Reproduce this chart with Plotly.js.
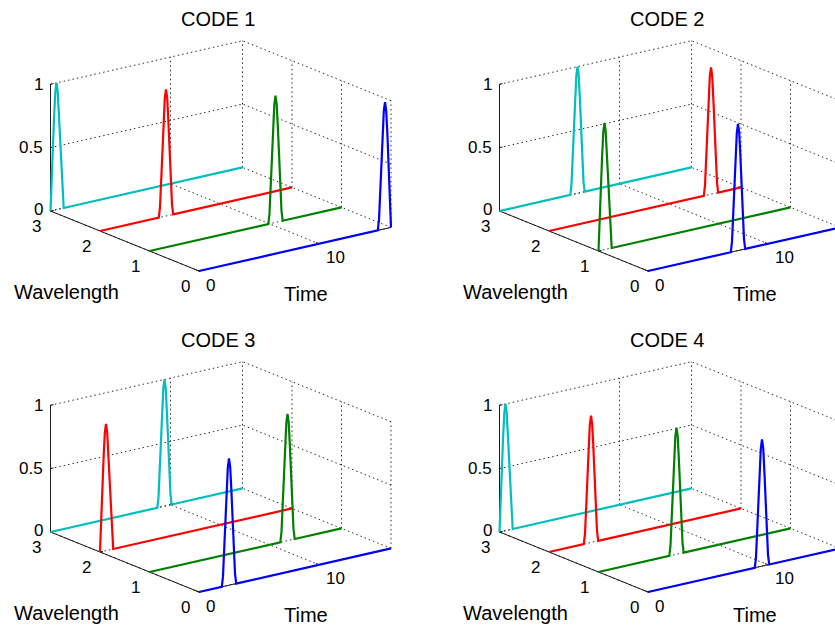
<!DOCTYPE html>
<html>
<head>
<meta charset="utf-8">
<script src="https://cdn.plot.ly/plotly-3.0.1.min.js"></script>
<style>
  html, body { margin: 0; padding: 0; background: #fff; }
  #chart { width: 835px; height: 627px; }
</style>
</head>
<body>
<div id="chart"></div>
<script>
// ---- data -------------------------------------------------------------
// Time axis span (16 chip slots) and the four wavelength channels
const timeRange = [0, 16];
const wavelengthRange = [0, 3];
const ampRange = [0, 1];
const wavelengths = [0, 1, 2, 3];
const lineColors = ['#0000FF', '#008000', '#FF0000', '#00BFBF'];

// Chip slot carrying the pulse on wavelength 0, 1, 2, 3 for each code
const code1Chips = [15, 10, 5, 0];
const code2Chips = [7, 0, 13, 6];
const code3Chips = [2, 11, 0, 9];
const code4Chips = [9, 6, 3, 0];
const codeTitles = ['CODE 1', 'CODE 2', 'CODE 3', 'CODE 4'];

// Sampled pulse profile: offset from the chip centre and normalised amplitude
const pulseOffsets = [-0.6, -0.5, -0.4, -0.3, -0.2, -0.1, 0, 0.1, 0.2, 0.3, 0.4, 0.5, 0.6];
const pulseLevels  = [0, 0.08, 0.3, 0.5, 0.74, 0.93, 1, 0.93, 0.74, 0.5, 0.3, 0.08, 0];

// Axis ticks
const timeTicks = [0, 10];
const wavelengthTicks = [0, 1, 2, 3];
const ampTicks = [0, 0.5, 1];
const ampTickText = ['0', '0.5', '1'];

const codes = [code1Chips, code2Chips, code3Chips, code4Chips];

// ---- oblique 3-D view ------------------------------------------------------
// Screen offset (px, y up) produced by each full axis span
const VIEW = {
  time: [192, 43.6],
  wave: [-148.5, 60],
  amp:  [0, 126.7]
};
function proj(t, wl, z) {
  const ft = (t - timeRange[0]) / (timeRange[1] - timeRange[0]);
  const fw = (wl - wavelengthRange[0]) / (wavelengthRange[1] - wavelengthRange[0]);
  const fz = (z - ampRange[0]) / (ampRange[1] - ampRange[0]);
  return [
    ft * VIEW.time[0] + fw * VIEW.wave[0] + fz * VIEW.amp[0],
    ft * VIEW.time[1] + fw * VIEW.wave[1] + fz * VIEW.amp[1]
  ];
}

// Front corner of each panel's box in page pixels, and the page area it owns
const W = 835, H = 627;
const panels = [
  { ox: 199, oy: 271, x0: 0,   x1: 425, y0: 0,   y1: 312 },
  { ox: 648, oy: 271, x0: 440, x1: 835, y0: 0,   y1: 312 },
  { ox: 199, oy: 592, x0: 0,   x1: 425, y0: 320, y1: 627 },
  { ox: 648, oy: 592, x0: 440, x1: 835, y0: 320, y1: 627 }
];

const FONT = 'Liberation Sans, Arial, Helvetica, sans-serif';

function pulseTrain(chip) {
  const centre = chip + 0.5;
  const pts = [[timeRange[0], 0]];
  pulseOffsets.forEach((o, i) => {
    const t = centre + o;
    if (t > timeRange[0] && t < timeRange[1]) pts.push([t, pulseLevels[i]]);
  });
  pts.push([timeRange[1], 0]);
  return pts;
}

// Collect 3-D segments into one projected polyline with gaps
function segTrace(segs, axes, style) {
  const x = [], y = [];
  segs.forEach(s => {
    const a = proj(...s[0]), b = proj(...s[1]);
    x.push(a[0], b[0], null);
    y.push(a[1], b[1], null);
  });
  return Object.assign({
    type: 'scatter', mode: 'lines', x: x, y: y,
    xaxis: axes[0], yaxis: axes[1], hoverinfo: 'skip', showlegend: false
  }, style);
}

const traces = [];
const annotations = [];
const layout = {
  width: W, height: H,
  margin: { l: 0, r: 0, t: 0, b: 0 },
  paper_bgcolor: '#fff', plot_bgcolor: 'rgba(0,0,0,0)',
  showlegend: false, hovermode: false
};

const [t0, t1] = timeRange, [w0, w1] = wavelengthRange, [z0, z1] = ampRange;

panels.forEach((p, k) => {
  const xa = 'x' + (k ? k + 1 : ''), ya = 'y' + (k ? k + 1 : '');
  const axes = [xa, ya];
  const hidden = { visible: false, fixedrange: true };
  layout['xaxis' + (k ? k + 1 : '')] = Object.assign({
    domain: [p.x0 / W, p.x1 / W], range: [p.x0 - p.ox, p.x1 - p.ox], anchor: ya
  }, hidden);
  layout['yaxis' + (k ? k + 1 : '')] = Object.assign({
    domain: [1 - p.y1 / H, 1 - p.y0 / H], range: [p.oy - p.y1, p.oy - p.y0], anchor: xa
  }, hidden);

  // dotted grid on the floor and the two back walls
  const grid = [];
  timeTicks.forEach(t => {
    grid.push([[t, w0, z0], [t, w1, z0]]);
    grid.push([[t, w1, z0], [t, w1, z1]]);
  });
  wavelengthTicks.forEach(w => {
    grid.push([[t0, w, z0], [t1, w, z0]]);
    grid.push([[t1, w, z0], [t1, w, z1]]);
  });
  ampTicks.forEach(z => {
    grid.push([[t0, w1, z], [t1, w1, z]]);
    grid.push([[t1, w0, z], [t1, w1, z]]);
  });
  traces.push(segTrace(grid, axes, { line: { color: '#2e2e2e', width: 1, dash: '1.5px,3px' } }));

  // solid axis lines and tick marks
  const axisSegs = [
    [[t0, w1, z0], [t0, w1, z1]],
    [[t0, w0, z0], [t0, w1, z0]],
    [[t0, w0, z0], [t1, w0, z0]]
  ];
  ampTicks.forEach(z => axisSegs.push([[t0, w1, z], [t0 + 0.25, w1, z]]));
  wavelengthTicks.forEach(w => axisSegs.push([[t0, w, z0], [t0 + 0.25, w, z0]]));
  timeTicks.forEach(t => axisSegs.push([[t, w0, z0], [t, w0 + 0.06, z0]]));
  traces.push(segTrace(axisSegs, axes, { line: { color: '#1a1a1a', width: 1 } }));

  // pulse trains, farthest wavelength first so nearer ones overlap it
  for (let w = wavelengths.length - 1; w >= 0; w--) {
    const wl = wavelengths[w];
    const pts = pulseTrain(codes[k][w]).map(q => proj(q[0], wl, q[1]));
    traces.push({
      type: 'scatter', mode: 'lines', xaxis: xa, yaxis: ya,
      x: pts.map(q => q[0]), y: pts.map(q => q[1]),
      line: { color: lineColors[w], width: 2.2 },
      hoverinfo: 'skip', showlegend: false
    });
  }

  const label = (pt, text, size, anchor, dx, dy) => {
    annotations.push({
      xref: xa, yref: ya, x: pt[0], y: pt[1], text: text, showarrow: false,
      xanchor: anchor, yanchor: 'middle', xshift: dx, yshift: dy,
      font: { family: FONT, size: size, color: '#000' }
    });
  };

  ampTicks.forEach((z, i) => label(proj(t0, w1, z), ampTickText[i], 17, 'right', -6, z === z0 ? 2 : 0));
  wavelengthTicks.forEach(w => label(proj(t0, w, z0), String(w), 17, 'center', -14, -15.5));
  timeTicks.forEach(t => label(proj(t, w0, z0), String(t), 17, 'left', 5, -14));
  label(proj(t0, (w0 + w1) / 2, z0), 'Wavelength', 20, 'center', -58, -50.5);
  label(proj((t0 + t1) / 2, w0, z0), 'Time', 20, 'center', 11, -44.3);
  label([18.8, 252], codeTitles[k], 20, 'center', 0, 0);
});

layout.annotations = annotations;

Plotly.newPlot('chart', traces, layout, { displayModeBar: false, staticPlot: true });
</script>
</body>
</html>
